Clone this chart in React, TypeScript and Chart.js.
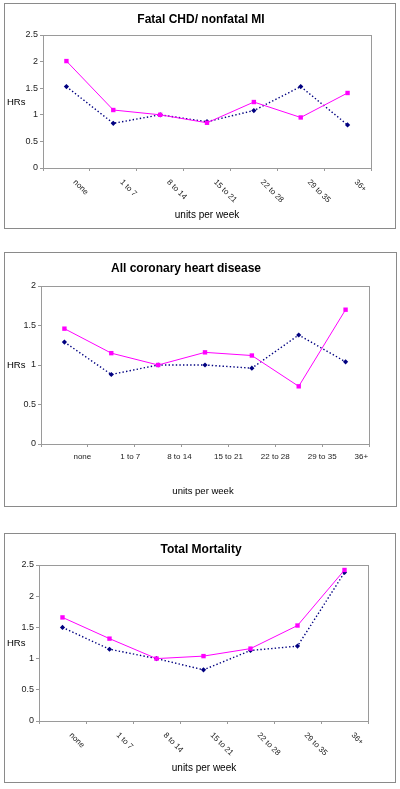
import React, { useEffect, useRef } from "react";
import { Chart, registerables } from "chart.js";

Chart.register(...registerables);

// ---- data ----
const categories = ["none", "1 to 7", "8 to 14", "15 to 21", "22 to 28", "29 to 35", "36+"];
const yAxisTitle = "HRs";
const xAxisTitle = "units per week";

const fatalTitle = "Fatal CHD/ nonfatal MI";
const fatalPink = [2.01, 1.09, 1.0, 0.85, 1.24, 0.95, 1.41];
const fatalNavy = [1.53, 0.84, 1.0, 0.87, 1.08, 1.53, 0.81];
const fatalYMax = 2.5;

const chdTitle = "All coronary heart disease";
const chdPink = [1.46, 1.15, 1.0, 1.16, 1.12, 0.73, 1.7];
const chdNavy = [1.29, 0.88, 1.0, 1.0, 0.96, 1.38, 1.04];
const chdYMax = 2;

const mortTitle = "Total Mortality";
const mortPink = [1.66, 1.32, 1.0, 1.04, 1.16, 1.53, 2.42];
const mortNavy = [1.5, 1.15, 1.0, 0.82, 1.13, 1.2, 2.38];
const mortYMax = 2.5;

const yStep = 0.5;

// ---- styles ----
const FONT = '"Liberation Sans", Arial, sans-serif';
const PINK = "#FF00FF";
const NAVY = "#000080";
const AXIS = "#9a9a9a";
const FRAME = "#8a8a8a";

type PanelProps = {
  title: string;
  pink: number[];
  navy: number[];
  yMax: number;
  box: { left: number; top: number; width: number; height: number };
  plot: { left: number; top: number; right: number; bottom: number };
  titlePos: [number, number];
  hrsPos: [number, number];
  xTitlePos: [number, number];
  xTitleSize: number;
  rotated: boolean;
  labelDx: number;
  labelDy: number;
};

function Panel(p: PanelProps) {
  const ref = useRef<HTMLCanvasElement | null>(null);
  const W = p.box.width - 2;
  const H = p.box.height - 2;

  useEffect(() => {
    if (!ref.current) return;
    const textPlugin = {
      id: "texts",
      beforeDatasetsDraw(chart: any) {
        const a = chart.chartArea;
        const ctx = chart.ctx;
        ctx.save();
        ctx.strokeStyle = AXIS;
        ctx.lineWidth = 1;
        ctx.strokeRect(Math.round(a.left) + 0.5, Math.round(a.top) + 0.5, Math.round(a.right - a.left), Math.round(a.bottom - a.top));
        ctx.restore();
      },
      afterDraw(chart: any) {
        const ctx = chart.ctx;
        const a = chart.chartArea;
        const xs = chart.scales.x;
        ctx.save();
        ctx.fillStyle = "#000";
        ctx.font = `bold 12px ${FONT}`;
        ctx.textAlign = "center";
        ctx.textBaseline = "middle";
        ctx.fillText(p.title, p.titlePos[0], p.titlePos[1]);
        ctx.font = `9.5px ${FONT}`;
        ctx.textAlign = "left";
        ctx.fillText(yAxisTitle, p.hrsPos[0], p.hrsPos[1]);
        ctx.font = `${p.xTitleSize}px ${FONT}`;
        ctx.textAlign = "center";
        ctx.fillText(xAxisTitle, p.xTitlePos[0], p.xTitlePos[1]);
        ctx.font = `8px ${FONT}`;
        ctx.fillStyle = "#222";
        categories.forEach((c, i) => {
          const x = xs.getPixelForValue(i);
          if (p.rotated) {
            ctx.save();
            ctx.translate(x + p.labelDx, a.bottom + p.labelDy);
            ctx.rotate(Math.PI / 4);
            ctx.textAlign = "left";
            ctx.textBaseline = "middle";
            ctx.fillText(c, 0, 0);
            ctx.restore();
          } else {
            ctx.textAlign = "left";
            ctx.textBaseline = "middle";
            ctx.fillText(c, x + p.labelDx, a.bottom + p.labelDy);
          }
        });
        ctx.restore();
      },
    };

    const chart = new Chart(ref.current, {
      type: "line",
      data: {
        labels: categories,
        datasets: [
          {
            label: "series 1",
            data: p.pink,
            borderColor: PINK,
            backgroundColor: PINK,
            pointBackgroundColor: PINK,
            pointBorderColor: PINK,
            borderWidth: 1,
            pointStyle: "rect",
            pointRadius: 3.1,
            pointBorderWidth: 0,
            tension: 0,
            fill: false,
          },
          {
            label: "series 2",
            data: p.navy,
            borderColor: NAVY,
            backgroundColor: NAVY,
            pointBackgroundColor: NAVY,
            pointBorderColor: NAVY,
            borderWidth: 1.4,
            borderDash: [1.4, 2.2],
            pointStyle: "rectRot",
            pointRadius: 2.6,
            pointBorderWidth: 0,
            tension: 0,
            fill: false,
          },
        ],
      },
      options: {
        animation: false,
        responsive: false,
        maintainAspectRatio: false,
        layout: { padding: { left: 0, top: p.plot.top, right: W - p.plot.right, bottom: 0 } },
        plugins: {
          legend: { display: false },
          title: { display: false },
          tooltip: { enabled: false },
        },
        scales: {
          x: {
            type: "category",
            offset: true,
            grid: { offset: true, drawOnChartArea: false, drawTicks: true, tickLength: 3, color: AXIS },
            border: { color: AXIS },
            ticks: { display: false },
            afterFit: (s: any) => {
              s.height = H - p.plot.bottom;
            },
          },
          y: {
            min: 0,
            max: p.yMax,
            grid: { drawOnChartArea: false, drawTicks: true, tickLength: 3, color: AXIS },
            border: { color: AXIS },
            ticks: {
              stepSize: yStep,
              padding: 2,
              color: "#222",
              font: { family: FONT, size: 9 },
              callback: (v: any) => String(v),
            },
            afterFit: (s: any) => {
              s.width = p.plot.left;
            },
          },
        },
      },
      plugins: [textPlugin],
    } as any);
    return () => chart.destroy();
  }, []);

  return (
    <div
      style={{
        position: "absolute",
        left: p.box.left,
        top: p.box.top,
        width: p.box.width,
        height: p.box.height,
        border: `1px solid ${FRAME}`,
        boxSizing: "border-box",
        background: "#fff",
      }}
    >
      <canvas ref={ref} width={W} height={H} style={{ display: "block", width: W, height: H }} />
    </div>
  );
}

export default function App() {
  return (
    <div style={{ position: "absolute", left: 0, top: 0, width: 400, height: 789, background: "#fff", overflow: "hidden" }}>
      <Panel
        title={fatalTitle}
        pink={fatalPink}
        navy={fatalNavy}
        yMax={fatalYMax}
        box={{ left: 4, top: 3, width: 392, height: 226 }}
        plot={{ left: 38, top: 31, right: 366, bottom: 164 }}
        titlePos={[196, 16]}
        hrsPos={[2, 98]}
        xTitlePos={[202, 211]}
        xTitleSize={10}
        rotated={true}
        labelDx={8}
        labelDy={13}
      />
      <Panel
        title={chdTitle}
        pink={chdPink}
        navy={chdNavy}
        yMax={chdYMax}
        box={{ left: 4, top: 252, width: 393, height: 255 }}
        plot={{ left: 36, top: 33, right: 364, bottom: 191 }}
        titlePos={[181, 16]}
        hrsPos={[2, 112]}
        xTitlePos={[198, 238]}
        xTitleSize={9.5}
        rotated={false}
        labelDx={9}
        labelDy={13}
      />
      <Panel
        title={mortTitle}
        pink={mortPink}
        navy={mortNavy}
        yMax={mortYMax}
        box={{ left: 4, top: 533, width: 392, height: 250 }}
        plot={{ left: 34, top: 31, right: 363, bottom: 187 }}
        titlePos={[196, 16]}
        hrsPos={[2, 109]}
        xTitlePos={[199, 234]}
        xTitleSize={10}
        rotated={true}
        labelDx={8}
        labelDy={13}
      />
    </div>
  );
}
